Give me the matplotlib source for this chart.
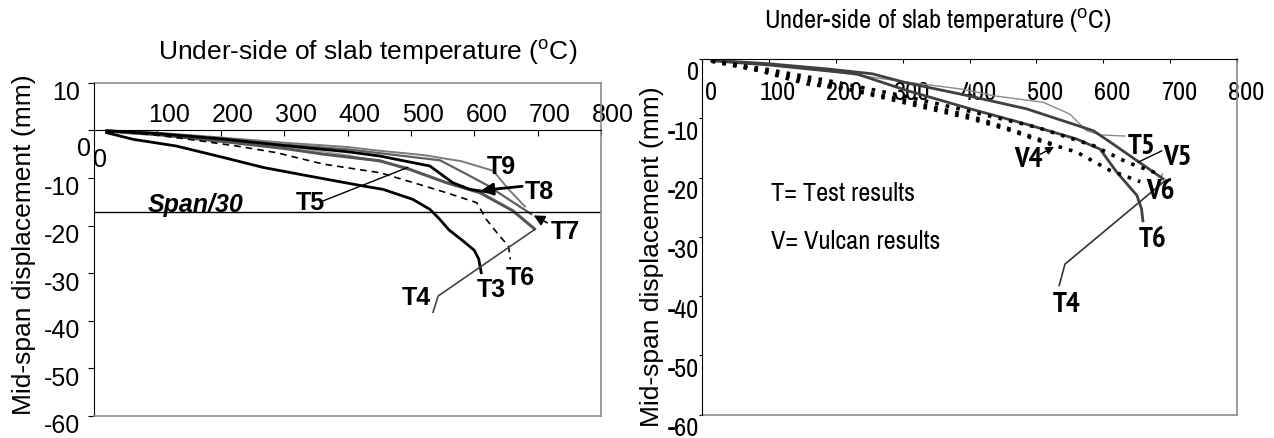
import numpy as np
import matplotlib
matplotlib.use('Agg')
import matplotlib.pyplot as plt
import matplotlib.transforms as mtransforms
from matplotlib import font_manager as fm

plt.rcParams['font.family'] = ['Liberation Sans', 'DejaVu Sans']
plt.rcParams['mathtext.fontset'] = 'custom'
plt.rcParams['mathtext.rm'] = 'Liberation Sans'

# right chart uses a narrow face in the original; fall back to smaller Liberation Sans
fonts = fm.fontManager.ttflist
narrow_names = sorted({f.name for f in fonts if 'Narrow' in f.name})
if narrow_names:
    NARROW = [narrow_names[0], 'Liberation Sans']
    NS = 19
else:
    NARROW = ['Liberation Sans']
    NS = 16
narrow_bold = [f.name for f in fonts if 'Narrow' in f.name and
               (f.weight == 'bold' or (isinstance(f.weight, int) and f.weight >= 600))]
if narrow_bold:
    NB_FAM, NB = [narrow_bold[0], 'Liberation Sans'], 21
else:
    NB_FAM, NB = ['Liberation Sans'], 15.5

# ---- left chart: test curves (temperature degC, displacement mm)
t3_T = [20, 62, 130, 204, 267, 335, 425, 456, 503, 530, 545, 560, 582, 600, 607, 611]
t3_D = [-0.5, -1.9, -3.3, -5.7, -7.8, -9.5, -11.7, -12.4, -14.5, -16.6, -18.6, -20.9, -23.2, -25.2, -27.0, -29.9]
t6_T = [20, 100, 167, 230, 288, 362, 451, 504, 556, 604, 619, 640, 654, 657]
t6_D = [-0.2, -1.0, -2.2, -3.4, -4.7, -7.1, -8.9, -11.0, -13.1, -15.2, -18.7, -22.2, -24.3, -27.1]
t4_T = [20, 100, 200, 300, 362, 451, 498, 556, 609, 661, 695]
t4_D = [-0.2, -0.9, -2.3, -3.8, -5.0, -6.4, -8.2, -11.0, -13.1, -16.9, -20.7]
t8_T = [20, 100, 200, 300, 400, 451, 530, 566, 593, 629]
t8_D = [-0.1, -0.7, -1.8, -3.2, -4.5, -5.4, -7.5, -11.0, -12.4, -13.1]
t9_T = [20, 100, 200, 300, 400, 451, 520, 580, 630, 655, 680]
t9_D = [0.0, -0.5, -1.5, -2.6, -3.5, -4.3, -5.2, -6.5, -8.5, -12.5, -16.0]
t7_T = [20, 100, 200, 300, 400, 451, 546, 582, 620, 660, 690]
t7_D = [-0.1, -0.6, -1.7, -3.0, -4.0, -4.8, -6.3, -8.8, -11.5, -15.0, -17.6]
t5_T = [20, 100, 200, 300, 400, 495]
t5_D = [-0.1, -0.8, -2.0, -3.3, -5.2, -7.8]
span30 = -17.2

# ---- right chart: test and Vulcan curves
r_t4_T = [15, 100, 190, 255, 305, 390, 485, 585, 610, 689]
r_t4_D = [-0.2, -0.8, -1.7, -2.5, -4.0, -6.0, -8.4, -12.1, -14.0, -20.2]
r_t6_T = [15, 100, 231, 306, 401, 485, 560, 595, 620, 650, 657, 659]
r_t6_D = [-0.3, -1.0, -2.5, -5.3, -8.4, -11.0, -13.5, -15.2, -19.1, -23.0, -25.3, -27.3]
r_t5_T = [15, 100, 200, 300, 390, 436, 510, 550, 575, 595, 632]
r_t5_D = [-0.2, -0.9, -2.2, -3.8, -5.1, -6.2, -7.3, -9.3, -12.1, -12.8, -13.0]
v4_T = [15, 87, 157, 231, 306, 401, 460, 510, 530]
v4_D = [-0.3, -2.0, -4.2, -5.3, -7.0, -9.6, -11.8, -13.8, -14.6]
v5_T = [15, 100, 200, 300, 400, 500, 585, 635, 688]
v5_D = [-0.3, -1.8, -3.9, -6.2, -8.8, -11.5, -14.6, -17.4, -19.6]
v6_T = [15, 100, 200, 300, 400, 460, 510, 560, 610, 655]
v6_D = [-0.4, -2.2, -4.6, -7.3, -10.0, -12.0, -14.0, -15.7, -18.8, -20.7]

x_ticks = [0, 100, 200, 300, 400, 500, 600, 700, 800]
y_ticks_left = [-60, -50, -40, -30, -20, -10, 0, 10]
y_ticks_right = [-60, -50, -40, -30, -20, -10, 0]

title = 'Under-side of slab temperature ($^{\\mathrm{o}}$C)'
ylab = 'Mid-span displacement (mm)'
GRAY = '#8c8c8c'

fig = plt.figure(figsize=(12.74, 4.39), dpi=100)


def shift(lb, dx, dy):
    # dx, dy in pixels (dy positive = down)
    lb.set_transform(lb.get_transform() + mtransforms.ScaledTranslation(dx / 100, -dy / 100, fig.dpi_scale_trans))


# ================= left chart
ax1 = fig.add_axes([94 / 1274, 22 / 439, 507 / 1274, 333.3 / 439])
ax1.set_xlim(0, 800)
ax1.set_ylim(-60, 10)
ax1.spines['top'].set_position(('data', 0))
ax1.spines['top'].set_color('black')
ax1.spines['left'].set_color('black')
for s in ['right', 'bottom']:
    ax1.spines[s].set_color(GRAY)
    ax1.spines[s].set_linewidth(1.2)
ax1.axhline(10, color=GRAY, lw=1.2, clip_on=False)
ax1.xaxis.set_ticks_position('top')
ax1.set_xticks(x_ticks[1:])
ax1.set_xticklabels([str(v) for v in x_ticks[1:]])
ax1.tick_params(axis='x', direction='in', length=4, pad=3, labelsize=18)
ax1.set_yticks(y_ticks_left)
ax1.set_yticklabels([str(v) for v in y_ticks_left])
ax1.tick_params(axis='y', direction='out', length=4, pad=6, labelsize=18)
for lb in ax1.get_xticklabels():
    shift(lb, 12, 0)
for lb, v in zip(ax1.get_yticklabels(), y_ticks_left):
    if v == 0:
        shift(lb, 11, 15)
    else:
        shift(lb, 0, 7)
ax1.text(9, -6.1, '0', fontsize=18, ha='center', va='center')

ax1.plot(t5_T, t5_D, color='#9a9a9a', lw=1.0)
ax1.plot(t9_T, t9_D, color='#7a7a7a', lw=1.4)
ax1.plot(t7_T, t7_D, color='#606060', lw=1.6)
ax1.plot(t4_T, t4_D, color='#555555', lw=2.2)
ax1.plot(t8_T, t8_D, color='black', lw=2.0)
ax1.plot(t6_T, t6_D, color='black', lw=1.2, ls=(0, (4, 3)))
ax1.plot(t3_T, t3_D, color='black', lw=2.0)
ax1.axhline(span30, color='black', lw=1.0)

bold = dict(fontsize=18, fontweight='bold', ha='center', va='center')
ax1.text(161, -15.5, 'Span/30', fontsize=18, fontweight='bold', style='italic', ha='center', va='center')
ax1.text(341, -15.1, 'T5', **bold)
ax1.plot([362, 495], [-14.8, -7.8], color='black', lw=1.0)
ax1.text(643, -7.5, 'T9', **bold)
ax1.text(703, -12.7, 'T8', **bold)
ax1.annotate('', xy=(606, -12.7), xytext=(680, -11.7),
             arrowprops=dict(arrowstyle='-|>', color='black', lw=2, mutation_scale=18))
ax1.text(743, -21.2, 'T7', **bold)
ax1.annotate('', xy=(690, -17.6), xytext=(719, -19.7),
             arrowprops=dict(arrowstyle='-|>', color='black', lw=1.2, mutation_scale=16))
ax1.text(627, -33.4, 'T3', **bold)
ax1.text(672, -30.9, 'T6', **bold)
ax1.text(509, -35.0, 'T4', **bold)
ax1.plot([535, 543, 695.6], [-38.2, -34.8, -20.8], color='#444444', lw=1.2)

ax1.set_title(title, fontsize=19, x=(368 - 94) / 507, y=1.071, pad=0, va='baseline')
ax1.set_ylabel(ylab, fontsize=19, va='center')
ax1.yaxis.set_label_coords(-0.139, 0.516)

# ================= right chart
ax2 = fig.add_axes([701.7 / 1274, 23.3 / 439, 535.6 / 1274, 355.7 / 439])
ax2.set_xlim(0, 800)
ax2.set_ylim(-60, 0)
ax2.spines['bottom'].set_position(('data', 0))
ax2.spines['bottom'].set_color('black')
ax2.spines['top'].set_visible(False)
ax2.spines['left'].set_color('black')
ax2.spines['right'].set_color(GRAY)
ax2.spines['right'].set_linewidth(1.2)
ax2.axhline(-60, color=GRAY, lw=1.2, clip_on=False)
ax2.set_xticks(x_ticks)
ax2.set_xticklabels([str(v) for v in x_ticks], family=NARROW)
ax2.tick_params(axis='x', direction='out', length=3, pad=12, labelsize=NS)
ax2.set_yticks(y_ticks_right)
ax2.set_yticklabels([str(v) for v in y_ticks_right], family=NARROW)
ax2.tick_params(axis='y', direction='out', length=2, pad=0, labelsize=NS)
for lb in ax2.get_xticklabels():
    shift(lb, 9, 0)
for lb in ax2.get_yticklabels():
    shift(lb, 0, 11)

ax2.plot(r_t5_T, r_t5_D, color='#8a8a8a', lw=1.0)
ax2.plot(r_t4_T, r_t4_D, color='#404040', lw=2.0)
ax2.plot(r_t6_T, r_t6_D, color='#404040', lw=2.0)
for vt, vd in [(v4_T, v4_D), (v5_T, v5_D), (v6_T, v6_D)]:
    ax2.plot(vt, vd, color='black', lw=2.6, ls=(0, (1, 2)))

nb = dict(fontsize=NB, fontweight='bold', ha='center', va='center', family=NB_FAM)
ax2.text(103, -22.5, 'T= Test results', fontsize=NS, ha='left', va='center', family=NARROW)
ax2.text(103, -30.6, 'V= Vulcan results', fontsize=NS, ha='left', va='center', family=NARROW)
ax2.text(488, -16.9, 'V4', **nb)
ax2.annotate('', xy=(530, -14.6), xytext=(502, -16.3),
             arrowprops=dict(arrowstyle='-|>', color='black', lw=1.0, mutation_scale=12))
ax2.text(657, -14.6, 'T5', **nb)
ax2.text(711, -16.5, 'V5', **nb)
ax2.plot([687, 652], [-15.5, -17.4], color='black', lw=1.0)
ax2.text(685, -22.2, 'V6', **nb)
ax2.text(674, -30.4, 'T6', **nb)
ax2.text(545, -41.3, 'T4', **nb)
ax2.plot([534, 542.6, 693.5], [-38.2, -34.6, -20.4], color='#333333', lw=1.2)

ax2.set_title(title, fontsize=NS, x=(938 - 701.7) / 535.6, y=1.087, pad=0, va='baseline', family=NARROW)
ax2.set_ylabel(ylab, fontsize=19, va='center')
ax2.yaxis.set_label_coords(-0.0928, 0.446)

fig.savefig('out.png', dpi=100)
